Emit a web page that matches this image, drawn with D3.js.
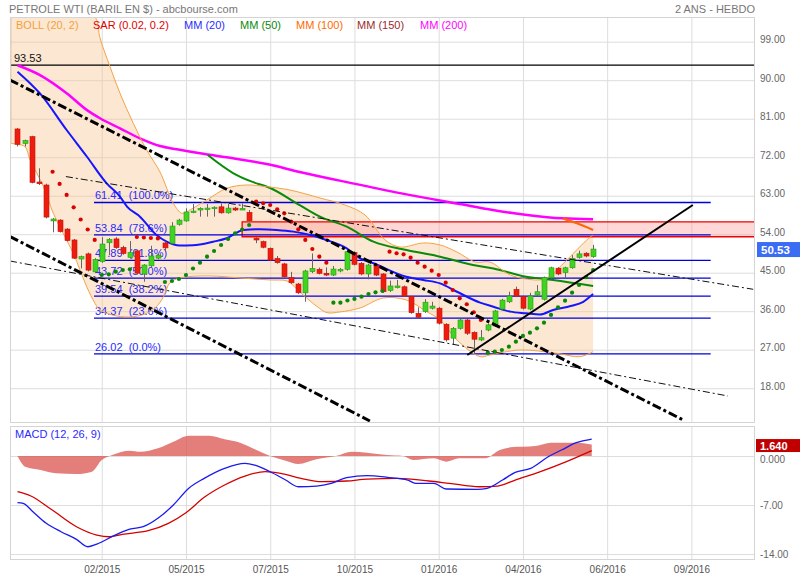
<!DOCTYPE html>
<html><head><meta charset="utf-8">
<script src="https://cdnjs.cloudflare.com/ajax/libs/d3/7.8.5/d3.min.js"></script>
<style>html,body{margin:0;padding:0;background:#fff}svg{display:block}text{font-family:"Liberation Sans",Arial,Helvetica,sans-serif}</style>
</head><body>
<svg id="chart" width="800" height="580"></svg>
<script>
// ---------------- DATA ----------------
const chartTitle = "PETROLE WTI (BARIL EN $) - abcbourse.com";
const periodLabel = "2 ANS - HEBDO";
const legendLabels = ["BOLL (20, 2)", "SAR (0.02, 0.2)", "MM (20)", "MM (50)", "MM (100)", "MM (150)", "MM (200)"];
const macdLabel = "MACD (12, 26, 9)";
const xTickIdx = [12, 24, 36, 48, 60, 72, 84, 96];
const xTickLabels = ["02/2015", "05/2015", "07/2015", "10/2015", "01/2016", "04/2016", "06/2016", "09/2016"];
const priceTicks = [18, 27, 36, 45, 54, 63, 72, 81, 90, 99];
const macdTicks = [0, -7, -14];
const macdTickLabels = ["0.000", "-7.00", "-14.00"];

// weekly candles (index 0..82)
const openP = [78.6,75.2,76.8,66.2,65.5,57.1,57.3,55.2,52.65,48.2,
49.4,45.2,47.6,52.0,52.9,50.9,48.6,50.1,44.7,46.6,
48.4,51.95,51.9,56.3,57.1,59.2,59.65,59.9,59.95,60.4,
59.0,60.1,59.9,59.1,53.05,52.25,50.7,48.35,47.05,43.85,
42.35,40.3,45.25,45.8,44.85,44.45,45.4,45.8,49.7,47.2,
44.7,46.65,44.7,40.8,41.5,41.7,39.4,35.5,35.9,36.7,
36.7,32.95,29.7,32.0,33.95,31.05,29.27,31.6,32.55,36.5,
38.2,41.1,39.4,36.5,39.8,38.8,43.85,46.05,45.0,46.15,
48.6,49.55,48.75];
const highP = [78.8,76.1,77.0,69.4,65.8,57.8,57.5,55.4,52.9,49.0,
49.7,48.4,53.3,53.1,53.3,51.3,52.4,50.4,47.0,51.3,
49.4,52.3,56.8,57.6,60.05,61.05,60.3,61.05,60.5,61.2,
61.05,60.4,61.2,59.65,53.3,52.5,50.9,48.9,47.3,45.2,
42.6,45.7,49.5,46.2,46.25,46.55,46.1,50.2,50.0,47.5,
47.1,47.0,44.9,43.15,43.3,42.0,39.6,36.9,38.8,38.2,
37.0,33.2,32.3,34.3,34.2,31.3,31.6,33.1,36.3,38.9,
40.55,41.75,39.6,40.3,42.1,44.1,46.4,46.3,46.4,49.1,
50.15,49.8,51.5];
const lowP = [74.5,74.5,65.9,65.5,57.7,54.45,54.4,52.3,48.2,46.0,
45.3,44.9,47.3,49.1,50.6,49.2,48.3,44.6,42.9,46.3,
48.1,49.9,51.6,56.0,56.9,58.9,58.1,58.1,58.1,58.8,
58.8,59.4,59.7,57.0,51.9,50.7,47.7,47.1,43.8,42.4,
40.0,38.2,44.9,44.6,44.2,44.2,45.1,45.5,46.7,44.4,
43.45,44.2,40.3,40.5,41.3,39.3,35.4,34.3,35.6,36.4,
32.9,28.9,28.1,31.7,30.45,26.05,29.0,31.3,32.3,36.2,
37.9,39.3,36.4,36.2,39.5,38.5,43.6,44.4,43.7,45.9,
48.3,48.6,48.5];
const closeP = [75.0,75.9,66.1,65.8,58.0,57.55,54.6,52.5,48.4,48.75,
45.6,48.1,51.7,52.8,50.85,49.5,49.7,44.9,46.8,48.9,
49.1,50.8,55.9,57.3,59.2,59.4,60.05,60.1,60.3,59.0,
60.1,59.65,60.0,57.15,52.65,50.95,47.95,47.35,44.05,42.65,
40.3,45.4,46.0,44.85,44.45,45.85,45.8,49.9,46.95,44.7,
46.8,44.45,40.55,41.9,41.9,39.55,35.65,34.6,38.1,37.2,
33.2,29.3,32.0,33.95,30.85,29.45,29.8,32.8,36.05,38.6,
39.55,39.55,36.7,39.55,40.55,43.85,46.15,44.7,46.15,48.35,
49.4,48.9,50.53];

// Parabolic SAR, one value per week starting at week sarStart
const sarStart = 5;
const sarVals = [68.6,65.74,63.17,60.29,57.44,55.1,52.65,
44.46,44.63,45.24,45.63,45.8,
53.35,53.23,53.11,53.0,
42.83,43.06,43.53,44.46,45.98,47.34,48.74,50.07,51.48,52.88,54.21,55.1,56.15,
61.6,61.23,60.83,59.82,58.89,56.92,55.15,52.65,50.54,48.74,47.34,
37.99,37.99,38.5,38.86,39.39,40.02,40.42,40.72,
49.91,49.54,49.3,48.51,47.34,46.41,45.47,44.46,42.67,40.96,39.02,37.62,35.75,33.95,
26.3,26.54,26.93,27.71,28.87,30.21,30.98,32.0,33.32,35.12,36.92,38.46,40.33,42.13,43.93,45.63];

// moving averages [week, value]
const mm20 = [[0,92.0],[3.2,86.9],[7.0,78.35],[9.9,72.1],[12.7,65.9],[14.6,62.8],[15.6,60.45],[17.45,58.1],[19.8,53.8],[21.25,52.25],[23.1,51.35],[25.0,51.4],[27.9,52.25],[29.8,53.05],[32.2,55.0],[34.5,55.15],[36.9,55.0],[39.3,54.6],[41.7,53.8],[44.0,52.65],[46.9,50.7],[48.8,48.35],[50.7,47.2],[55.4,44.05],[57.8,43.3],[60.2,42.5],[62.6,40.55],[65.9,38.0],[67.8,37.05],[70.2,35.9],[72.5,35.5],[74.4,35.2],[76.3,36.3],[78.8,37.2],[80.6,38.2],[82,40.0]];
const mm50 = [[27.1,72.5],[30.7,68.3],[33.1,66.45],[36.0,64.8],[40.2,60.8],[43.1,58.1],[46.9,55.75],[50.7,52.25],[55.4,50.3],[60.2,48.75],[64.9,46.8],[67.8,46.0],[72.5,44.05],[76.3,43.3],[82,41.9]];
const mm100 = [[77.7,57.7],[79.6,56.6],[82,55.0]];
const mm200 = [[0,93.5],[3.2,91.2],[7.05,86.9],[9.9,83.0],[11.75,81.1],[14.6,78.75],[17.45,76.4],[20.3,74.6],[22.7,73.85],[26,72.9],[30.7,71.75],[35.5,70.4],[40.2,68.55],[47.4,66.0],[54.5,63.6],[63,61.05],[67.7,59.65],[72.6,58.5],[77.7,57.7],[82,57.5]];

// Bollinger bands [week, value]
const bollUpper = [[-1.07,112],[6.05,110],[11.04,104.8],[11.75,99.87],[13.18,93.15],[14.6,86.94],[16.5,79.93],[18.4,73.68],[20.3,68.54],[22.2,61.22],[23.4,58.88],[24.1,59.26],[26.95,62.0],[29.8,64.73],[32.65,65.5],[35.5,65.1],[38.8,64.33],[43.1,62.46],[46.65,60.83],[49.5,58.5],[52.35,52.67],[54.5,51.0],[57.8,51.95],[60.2,51.48],[62.6,49.84],[65.2,47.5],[67.3,47.5],[70.2,44.46],[73.95,43.3],[75.4,43.69],[77.3,46.4],[79.2,49.54],[81.1,52.65],[82,53.82]];
const bollLower = [[-1.07,75.25],[0,75.0],[1.07,74.46],[1.8,71.35],[3.7,65.1],[5.1,58.89],[6.5,54.21],[7.95,49.54],[8.9,45.63],[9.86,41.73],[11.04,37.85],[11.75,36.28],[14.1,34.88],[16.5,34.72],[18.4,35.51],[19.8,37.06],[20.8,39.39],[21.7,42.6],[23.1,43.76],[27.4,44.23],[31.7,43.76],[36.0,43.3],[38.4,43.06],[39.5,41.66],[40.7,39.79],[42.7,37.06],[44.1,35.65],[45.9,35.82],[48.8,36.75],[52.1,39.09],[55.4,38.62],[58.3,35.89],[60.2,33.95],[62.6,29.27],[65.9,25.37],[67.3,25.76],[71.6,26.93],[76.8,26.16],[80.1,25.37],[82,26.54]];

// Fibonacci retracement
const fibValues = [61.41, 53.84, 47.89, 43.72, 39.54, 34.37, 26.02];
const fibPct = ["100.0%", "78.6%", "61.8%", "50.0%", "38.2%", "23.6%", "0.0%"];
const fibRange = [10.9, 98.75];
const highLevel = 93.53;
const zone = {from: 32.0, low: 53.4, high: 56.9};

// trend lines [[week, price],[week, price]]
const trendThick = [[[-1.07,90.05],[94.84,10.57]], [[-1.07,53.46],[50.2,10.34]]];
const trendThin = [[[6.9,67.47],[104.8,41.12]], [[-1.07,47.74],[101.2,16.18]]];
const trendSolid = [[[64.07,25.77],[96.2,60.83]]];

// MACD [week, value]
const macdLine = [[0,-6.67],[0.8,-6.76],[2.2,-7.96],[4.1,-9.61],[6.2,-10.81],[8.4,-11.9],[10.0,-12.96],[11.3,-12.57],[13.9,-11.29],[16.0,-10.43],[17.9,-10.1],[20.0,-8.9],[22.2,-7.0],[24.4,-4.61],[26.6,-3.19],[29.5,-1.76],[32.4,-1.04],[33.8,-1.29],[36.0,-2.24],[38.2,-3.43],[40.0,-4.39],[42.6,-4.29],[44.7,-3.9],[46.9,-3.1],[49.8,-2.81],[52.7,-3.04],[55.6,-3.43],[56.7,-3.9],[59.3,-3.9],[61.1,-4.71],[65.5,-4.76],[66.9,-4.61],[69.1,-3.43],[70.9,-2.33],[73.1,-1.76],[75.6,-0.1],[77.5,0.86],[79.6,1.9],[81.8,2.43]];
const signalLine = [[0,-5.1],[1.9,-5.71],[4.8,-7.61],[8.4,-10.1],[11.3,-11.29],[13.1,-11.53],[14.9,-11.19],[18.6,-10.67],[21.5,-9.61],[24.0,-8.1],[26.6,-5.9],[29.5,-4.14],[32.4,-2.86],[35.3,-2.24],[37.5,-2.47],[40.4,-3.19],[43.3,-3.67],[46.9,-3.57],[49.8,-3.29],[54.2,-3.19],[58.6,-3.57],[61.5,-3.9],[65.8,-4.39],[68.4,-4.29],[70.9,-3.43],[74.5,-2.24],[78.2,-0.81],[81.8,0.76]];
const macdHist = [[0,0],[1.1,-1.53],[3.3,-2.0],[5.5,-2.47],[8.4,-2.57],[10.6,-2.24],[12.0,-0.57],[13.5,0.14],[16.0,0.76],[17.5,0.61],[20.0,1.1],[22.2,2.04],[24.4,2.9],[27.3,2.9],[29.5,2.39],[31.7,1.9],[33.8,0.96],[36.0,0],[38.2,-0.67],[40.0,-1.14],[42.6,-0.47],[45.5,0.04],[47.6,0.61],[49.8,0.47],[52.7,0.14],[54.9,0],[56.4,-0.57],[59.3,-0.33],[61.1,-0.81],[62.9,-0.33],[66.6,-0.33],[68.7,0.86],[70.2,1.24],[73.8,1.43],[76.0,1.9],[79.6,1.9],[81.8,1.64]];

// ---------------- DRAWING ----------------
const svg = d3.select("#chart");
const L = 10, R = 755, T = 17, B = 422, MT = 426, MB = 559;
const x = d3.scaleLinear().domain([-1.068, 105.06]).range([L, R]);
const y = d3.scaleLinear().domain([10.1, 104.77]).range([B, T]);
const ym = d3.scaleLinear().domain([-14.71, 4.29]).range([MB, MT]);
const FONT = '"Liberation Sans", Arial, Helvetica, sans-serif';

const defs = svg.append("defs");
defs.append("clipPath").attr("id", "clipMain").append("rect").attr("x", L).attr("y", T).attr("width", R - L).attr("height", B - T);
defs.append("clipPath").attr("id", "clipMacd").append("rect").attr("x", L).attr("y", MT).attr("width", R - L).attr("height", MB - MT);

const GRID = "#dddddd", BORDER = "#d4d4d4";

// header
svg.append("text").attr("x", 9).attr("y", 13).attr("font-size", 11).attr("fill", "#777").text(chartTitle);
svg.append("text").attr("x", R).attr("y", 13).attr("font-size", 11).attr("fill", "#777").attr("text-anchor", "end").text(periodLabel);

// grid lines
function cleanAxis(g) { g.select(".domain").remove(); g.attr("font-family", FONT); }
svg.append("g").attr("transform", `translate(${R},0)`)
  .call(d3.axisLeft(y).tickValues(priceTicks).tickSize(R - L).tickFormat(""))
  .call(cleanAxis).selectAll("line").attr("stroke", GRID);
svg.append("g").attr("transform", `translate(0,${T})`)
  .call(d3.axisBottom(x).tickValues(xTickIdx).tickSize(B - T).tickFormat(""))
  .call(cleanAxis).selectAll("line").attr("stroke", GRID);
svg.append("g").attr("transform", `translate(${R},0)`)
  .call(d3.axisLeft(ym).tickValues(macdTicks).tickSize(R - L).tickFormat(""))
  .call(cleanAxis).selectAll("line").attr("stroke", GRID);
svg.append("g").attr("transform", `translate(0,${MT})`)
  .call(d3.axisBottom(x).tickValues(xTickIdx).tickSize(MB - MT).tickFormat(""))
  .call(cleanAxis).selectAll("line").attr("stroke", GRID);

const gMain = svg.append("g").attr("clip-path", "url(#clipMain)");

// Bollinger fill
const bandLine = d3.line().x(d => x(d[0])).y(d => y(d[1])).curve(d3.curveCatmullRom.alpha(0.5));
const upPath = bandLine(bollUpper);
const loRev = bandLine(bollLower.slice().reverse());
gMain.append("path").attr("d", upPath + "L" + loRev.slice(1) + "Z")
  .attr("fill", "#f8c48f").attr("fill-opacity", 0.4).attr("stroke", "none");

// resistance zone
gMain.append("rect").attr("x", x(zone.from)).attr("y", y(zone.high)).attr("width", R - x(zone.from))
  .attr("height", y(zone.low) - y(zone.high)).attr("fill", "#ff9a9a").attr("fill-opacity", 0.4);
gMain.append("path").attr("d", `M${R},${y(zone.high)}H${x(zone.from)}V${y(zone.low)}H${R}`)
  .attr("fill", "none").attr("stroke", "#e00").attr("stroke-width", 1.3);

// 93.53 line
gMain.append("line").attr("x1", L).attr("x2", R).attr("y1", y(highLevel)).attr("y2", y(highLevel)).attr("stroke", "#000").attr("stroke-width", 1.2);
gMain.append("text").attr("x", 14).attr("y", y(highLevel) - 3).attr("font-size", 11).attr("fill", "#111").text(d3.format(".2f")(highLevel));

// Fibonacci lines
fibValues.forEach((v, k) => {
  gMain.append("line").attr("x1", x(fibRange[0])).attr("x2", x(fibRange[1])).attr("y1", y(v)).attr("y2", y(v))
    .attr("stroke", "#0000dd").attr("stroke-width", 1.3);
  gMain.append("text").attr("x", x(fibRange[0]) + 1).attr("y", y(v) - 3).attr("font-size", 11).attr("fill", "#2a2aff")
    .style("white-space", "pre").attr("xml:space", "preserve").text(d3.format(".2f")(v) + "  (" + fibPct[k] + ")");
});

// moving averages
const maLine = d3.line().x(d => x(d[0])).y(d => y(d[1])).curve(d3.curveMonotoneX);
gMain.append("path").attr("d", maLine(mm200)).attr("fill", "none").attr("stroke", "#f0f").attr("stroke-width", 2.5);
gMain.append("path").attr("d", maLine(mm100)).attr("fill", "none").attr("stroke", "#ff6600").attr("stroke-width", 2.2);
gMain.append("path").attr("d", maLine(mm50)).attr("fill", "none").attr("stroke", "#0a8a0a").attr("stroke-width", 2);
gMain.append("path").attr("d", maLine(mm20)).attr("fill", "none").attr("stroke", "#1515ff").attr("stroke-width", 2);

// Bollinger strokes
gMain.append("path").attr("d", upPath).attr("fill", "none").attr("stroke", "#f5a344").attr("stroke-width", 1);
gMain.append("path").attr("d", bandLine(bollLower)).attr("fill", "none").attr("stroke", "#f5a344").attr("stroke-width", 1);
gMain.append("line").attr("x1", x(bollUpper[0][0]) + 0.5).attr("x2", x(bollUpper[0][0]) + 0.5)
  .attr("y1", T).attr("y2", y(bollLower[0][1])).attr("stroke", "#f5a344").attr("stroke-width", 1.5);

// candles
const idx = d3.range(openP.length);
const gC = gMain.append("g");
idx.forEach(i => {
  const up = closeP[i] >= openP[i];
  const cx = Math.round(x(i)) + 0.5;
  gC.append("line").attr("x1", cx).attr("x2", cx).attr("y1", y(highP[i])).attr("y2", y(lowP[i]))
    .attr("stroke", "#666").attr("stroke-width", 1);
  const top = y(Math.max(openP[i], closeP[i])), bot = y(Math.min(openP[i], closeP[i]));
  const h = Math.max(1.5, bot - top);
  gC.append("rect").attr("x", cx - 2.5).attr("y", top).attr("width", 5).attr("height", h)
    .attr("fill", up ? "#3fd41f" : "#ee1c0f").attr("stroke", up ? "#2a9a15" : "#c21208").attr("stroke-width", 0.6);
});

// SAR dots
sarVals.forEach((v, k) => {
  const i = sarStart + k;
  const mid = (highP[i] + lowP[i]) / 2;
  gMain.append("circle").attr("cx", x(i)).attr("cy", y(v)).attr("r", 2.1)
    .attr("fill", v < mid ? "#078a07" : "#dd0000");
});

// trend lines
const tl = d3.line().x(d => x(d[0])).y(d => y(d[1]));
trendThick.forEach(s => gMain.append("path").attr("d", tl(s)).attr("fill", "none").attr("stroke", "#000")
  .attr("stroke-width", 3).attr("stroke-dasharray", "9,3,3,3"));
trendThin.forEach(s => gMain.append("path").attr("d", tl(s)).attr("fill", "none").attr("stroke", "#111")
  .attr("stroke-width", 1).attr("stroke-dasharray", "7,3,2,3"));
trendSolid.forEach(s => gMain.append("path").attr("d", tl(s)).attr("fill", "none").attr("stroke", "#000")
  .attr("stroke-width", 2));

// panel borders
svg.append("rect").attr("x", L + 0.5).attr("y", T + 0.5).attr("width", R - L - 1).attr("height", B - T).attr("fill", "none").attr("stroke", BORDER);
svg.append("rect").attr("x", L + 0.5).attr("y", MT + 0.5).attr("width", R - L - 1).attr("height", MB - MT).attr("fill", "none").attr("stroke", BORDER);

// legend
const legendX = [16, 93, 184, 240, 296, 357, 420];
const legendCol = ["#f2a13c", "#e00000", "#2b2bff", "#0a8a0a", "#ff6a00", "#9b2b2b", "#ff00ff"];
legendLabels.forEach((t, k) => svg.append("text").attr("x", legendX[k]).attr("y", 29).attr("font-size", 11)
  .attr("fill", legendCol[k]).text(t));

// right price axis
svg.append("g").attr("transform", `translate(${R},0)`)
  .call(d3.axisRight(y).tickValues(priceTicks).tickFormat(d3.format(".2f")).tickSize(0).tickPadding(5))
  .call(cleanAxis).selectAll("text").attr("fill", "#666").attr("font-size", 10).attr("dy", "0.12em");

// last price box
const last = closeP[closeP.length - 1];
svg.append("rect").attr("x", 757).attr("y", y(last) - 7).attr("width", 43).attr("height", 15).attr("fill", "#3a6cf4");
svg.append("text").attr("x", 761).attr("y", y(last) + 4.5).attr("font-size", 11.5).attr("font-weight", "bold")
  .attr("fill", "#fff").text(d3.format(".2f")(last));

// MACD panel
const gM = svg.append("g").attr("clip-path", "url(#clipMacd)");
const histArea = d3.area().x(d => x(d[0])).y0(ym(0)).y1(d => ym(d[1])).curve(d3.curveMonotoneX);
gM.append("path").attr("d", histArea(macdHist)).attr("fill", "#d9534f").attr("fill-opacity", 0.75);
const ml = d3.line().x(d => x(d[0])).y(d => ym(d[1])).curve(d3.curveMonotoneX);
gM.append("path").attr("d", ml(signalLine)).attr("fill", "none").attr("stroke", "#d40000").attr("stroke-width", 1.3);
gM.append("path").attr("d", ml(macdLine)).attr("fill", "none").attr("stroke", "#1a1aee").attr("stroke-width", 1.3);
svg.append("text").attr("x", 15).attr("y", 438).attr("font-size", 11).attr("fill", "#2a2aff").text(macdLabel);

svg.append("g").attr("transform", `translate(${R},0)`)
  .call(d3.axisRight(ym).tickValues(macdTicks).tickFormat((d, k) => macdTickLabels[k]).tickSize(0).tickPadding(5))
  .call(cleanAxis).selectAll("text").attr("fill", "#666").attr("font-size", 10).attr("dy", (d) => d === 0 ? "0.6em" : "0.32em");

const lastHist = macdHist[macdHist.length - 1][1];
svg.append("rect").attr("x", 756).attr("y", ym(lastHist) - 5.5).attr("width", 44).attr("height", 13).attr("fill", "#c00000");
svg.append("text").attr("x", 760).attr("y", ym(lastHist) + 5).attr("font-size", 11).attr("font-weight", "bold")
  .attr("fill", "#fff").text(d3.format(".3f")(lastHist));

// x axis labels
svg.append("g").attr("transform", `translate(0,${MB})`)
  .call(d3.axisBottom(x).tickValues(xTickIdx).tickFormat((d, k) => xTickLabels[k]).tickSize(0).tickPadding(7))
  .call(cleanAxis).selectAll("text").attr("fill", "#555").attr("font-size", 10);
</script>
</body></html>
